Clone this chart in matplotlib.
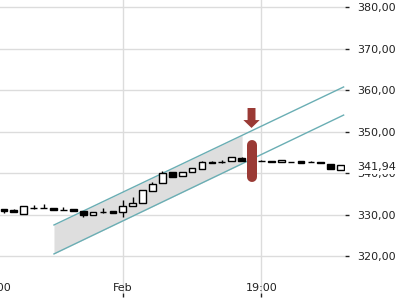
import matplotlib.pyplot as plt
import numpy as np

# candle data (one candle per slot, index 0..34)
opens = [331.4, 331.2, 330.2, 331.6, 331.65, 331.65, 331.15, 331.3, 330.9, 330.0,
         330.6, 331.0, 330.7, 332.1, 332.85, 335.7, 337.66, 340.3, 339.35, 340.3,
         341.0, 342.75, 342.65, 342.95, 343.7, 343.0, 342.95, 343.0, 342.7, 342.75,
         342.95, 342.7, 342.6, 342.2, 340.85]
closes = [330.95, 330.7, 332.1, 331.6, 331.7, 331.1, 331.2, 330.9, 329.9, 330.6,
          330.65, 330.55, 332.1, 332.85, 336.0, 337.4, 340.07, 339.1, 340.3, 341.27,
          342.7, 342.55, 342.7, 343.9, 342.95, 342.9, 342.9, 342.8, 343.2, 342.7,
          342.5, 342.72, 342.5, 341.05, 341.94]
highs = [331.4, 331.3, 332.1, 332.4, 332.5, 331.65, 331.9, 331.4, 330.9, 330.6,
         331.7, 331.0, 333.57, 334.3, 336.0, 337.9, 340.55, 340.4, 340.4, 341.3,
         342.9, 342.9, 343.1, 344.0, 343.9, 343.0, 343.2, 343.0, 343.2, 342.75,
         342.95, 342.95, 342.6, 342.2, 341.94]
lows = [330.55, 330.6, 330.2, 331.5, 331.6, 331.1, 331.1, 330.9, 329.6, 330.0,
        330.55, 330.5, 329.5, 332.1, 332.85, 335.7, 337.66, 339.1, 339.35, 340.3,
        341.0, 342.5, 342.4, 342.95, 342.9, 342.9, 342.9, 342.8, 342.7, 342.7,
        342.5, 342.6, 342.5, 341.05, 340.85]

# trend channel
channel_x = [5.05, 34.3]
channel_upper = [327.56, 360.76]
channel_lower = [320.6, 354.0]
channel_fill_end = 24.05

# signal marker
signal_idx = 25
arrow_top, arrow_tip = 355.7, 350.9
bar_top, bar_bottom = 346.9, 339.0

last_price = 341.94

xtick_pos = [-0.8, 12, 26]
xtick_labels = ['18:00', 'Feb', '19:00']
yticks = [320, 330, 340, 350, 360, 370, 380]

fig = plt.figure(figsize=(4, 3), dpi=100)
ax = fig.add_axes([-0.05, 7 / 300, 365 / 400, 293 / 300])
ax.set_axisbelow(True)

idx = np.arange(len(opens))
o = np.array(opens)
c = np.array(closes)
up = c >= o

ax.vlines(idx, lows, highs, color='black', lw=1, zorder=3)
ax.bar(idx[up], (c - o)[up], bottom=o[up], width=0.68, color='white',
       edgecolor='black', lw=1, zorder=4)
ax.bar(idx[~up], (c - o)[~up], bottom=o[~up], width=0.68, color='black',
       edgecolor='black', lw=1, zorder=4)

# channel band and lines
slope_u = (channel_upper[1] - channel_upper[0]) / (channel_x[1] - channel_x[0])
slope_l = (channel_lower[1] - channel_lower[0]) / (channel_x[1] - channel_x[0])
fx = np.array([channel_x[0], channel_fill_end])
ax.fill_between(fx, channel_lower[0] + slope_l * (fx - channel_x[0]),
                channel_upper[0] + slope_u * (fx - channel_x[0]),
                color='#dedede', lw=0, zorder=1)
ax.plot(channel_x, channel_upper, color='#6aaeb4', lw=1, zorder=2)
ax.plot(channel_x, channel_lower, color='#6aaeb4', lw=1, zorder=2)

# signal arrow and bar
ax.arrow(signal_idx, arrow_top, 0, arrow_tip - arrow_top, width=0.8,
         head_width=1.65, head_length=1.9, length_includes_head=True,
         color='#9a3a35', lw=0, zorder=6)
ax.plot([signal_idx, signal_idx], [bar_bottom, bar_top], color='#9a3a35',
        lw=7.2, solid_capstyle='round', zorder=6)

ax.set_xlim(-2.42, 34.44)
ax.set_ylim(311.2, 381.68)

ax.set_yticks(yticks)
ax.set_yticklabels([f'{v:.2f}'.replace('.', ',') for v in yticks])
ax.yaxis.tick_right()
ax.set_xticks(xtick_pos)
ax.set_xticklabels(xtick_labels)

ax.tick_params(axis='y', length=3, width=1, pad=6, labelsize=8,
               colors='#222222')
ax.tick_params(axis='x', length=3, width=1, pad=-10, labelsize=8,
               colors='#222222')
ax.grid(True, color='#dcdcdc', lw=1)
for s in ax.spines.values():
    s.set_visible(False)

ax.annotate(f'{last_price:.2f}'.replace('.', ','), xy=(1, last_price),
            xycoords=('axes fraction', 'data'), xytext=(12, -2),
            textcoords='offset pixels', va='center', ha='left', fontsize=8,
            color='#222222', annotation_clip=False, zorder=10,
            bbox=dict(facecolor='white', edgecolor='none', pad=1.5))

fig.savefig('out.png', dpi=100)
